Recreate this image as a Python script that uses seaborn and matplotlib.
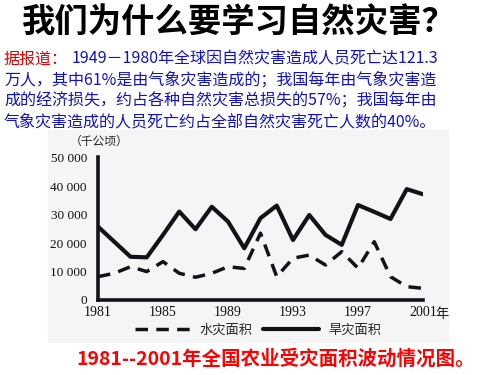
import numpy as np
import pandas as pd
import seaborn as sns
import matplotlib.pyplot as plt
from matplotlib.patches import Rectangle

years = [1981, 1982, 1983, 1984, 1985, 1986, 1987, 1988, 1989, 1990, 1991,
         1992, 1993, 1994, 1995, 1996, 1997, 1998, 1999, 2000, 2001]
flood = [8200, 9400, 11700, 10000, 13500, 9400, 8000, 9400, 11700, 11100, 23500,
         8200, 14700, 15800, 12300, 17000, 11200, 20500, 8200, 4700, 4100]
drought = [25800, 20500, 15200, 15000, 22900, 31100, 24900, 32800, 27600, 18200, 28800,
           33200, 21100, 29900, 22900, 19400, 33400, 31000, 28500, 39000, 37200]
ytick_vals = [0, 10000, 20000, 30000, 40000, 50000]
ytick_labels = ['0', '10 000', '20 000', '30 000', '40 000', '50 000']
xtick_major = [1981, 1985, 1989, 1993, 1997, 2001]
xtick_minor = [1983, 1987, 1991, 1995, 1999]

title = '我们为什么要学习自然灾害？'
lead = '据报道：'
para = ['1949－1980年全球因自然灾害造成人员死亡达121.3',
        '万人，其中61%是由气象灾害造成的；我国每年由气象灾害造',
        '成的经济损失，约占各种自然灾害总损失的57%；我国每年由',
        '气象灾害造成的人员死亡约占全部自然灾害死亡人数的40%。']
caption = '1981--2001年全国农业受灾面积波动情况图。'
flood_name = '水灾面积'
drought_name = '旱灾面积'
unit = '（千公顷）'

df = pd.DataFrame({'year': years, flood_name: flood, drought_name: drought})

sns.set_style('white')
plt.rcParams['font.family'] = ['Noto Sans CJK SC', 'DejaVu Sans']

fig = plt.figure(figsize=(5, 3.75), dpi=100)
W, H = 500, 375
def fx(x): return x / W
def fy(y): return 1 - y / H

# scanned-page background for the chart region
fig.patches.append(Rectangle((fx(48), fy(342)), fx(400), (342 - 130) / H,
                             transform=fig.transFigure, color='#f5f5f5', zorder=-5))

ax = fig.add_axes([fx(98), fy(300), (423 - 98) / W, (300 - 157) / H])
ax.set_zorder(2)
ax.patch.set_alpha(0)
ink = '#121219'
sns.lineplot(data=df, x='year', y=flood_name, ax=ax, color=ink, lw=2.5,
             linestyle=(0, (3.6, 2.4)), label=flood_name, legend=False)
sns.lineplot(data=df, x='year', y=drought_name, ax=ax, color=ink, lw=3.0,
             label=drought_name, legend=False)

ax.set_xlim(1981, 2001)
ax.set_ylim(0, 50300)
for s in ['top', 'right']:
    ax.spines[s].set_visible(False)
for s in ['left', 'bottom']:
    ax.spines[s].set_linewidth(2.6)
    ax.spines[s].set_color(ink)
ax.set_xlabel('')
ax.set_ylabel('')
ax.set_yticks(ytick_vals)
ax.set_yticklabels(ytick_labels, family='Liberation Serif', fontsize=9.5, color='#111111')
ax.set_xticks(xtick_major)
ax.set_xticklabels([str(v) for v in xtick_major], family='Liberation Serif', fontsize=10,
                   color='#111111')
ax.set_xticks(xtick_minor, minor=True)
ax.tick_params(axis='x', which='both', direction='in', length=4, width=2.4, color=ink, pad=4)
ax.tick_params(axis='y', length=0, pad=8)
ax.annotate('年', xy=(2001, 0), xytext=(9, -5.5), textcoords='offset points',
            ha='left', va='top', fontsize=9.5, color='#111111')

fig.text(fx(128), fy(141), unit, ha='right', va='center', fontsize=8.5, color='#222222')

handles, labels = ax.get_legend_handles_labels()
fig.legend(handles, labels, loc='center', bbox_to_anchor=(fx(258), fy(330)), ncol=2,
           frameon=False, fontsize=9.5, handlelength=4.2, columnspacing=0.8,
           handletextpad=0.7)

fig.text(fx(239), fy(22), title, ha='center', va='center', fontsize=24,
         fontweight='bold', color='black')
fig.text(fx(4), fy(59), lead, ha='left', va='center', fontsize=11.5, color='#e00000')
fig.text(fx(72), fy(59), para[0], ha='left', va='center', fontsize=11.5, color='#1010d0')
for i, line in enumerate(para[1:]):
    fig.text(fx(4), fy(80 + 21 * i), line, ha='left', va='center', fontsize=11.5,
             color='#1010d0')

fig.text(fx(276), fy(359), caption, ha='center', va='center', fontsize=14,
         fontweight='bold', color='#ff0000')

fig.savefig('out.png', dpi=100)
